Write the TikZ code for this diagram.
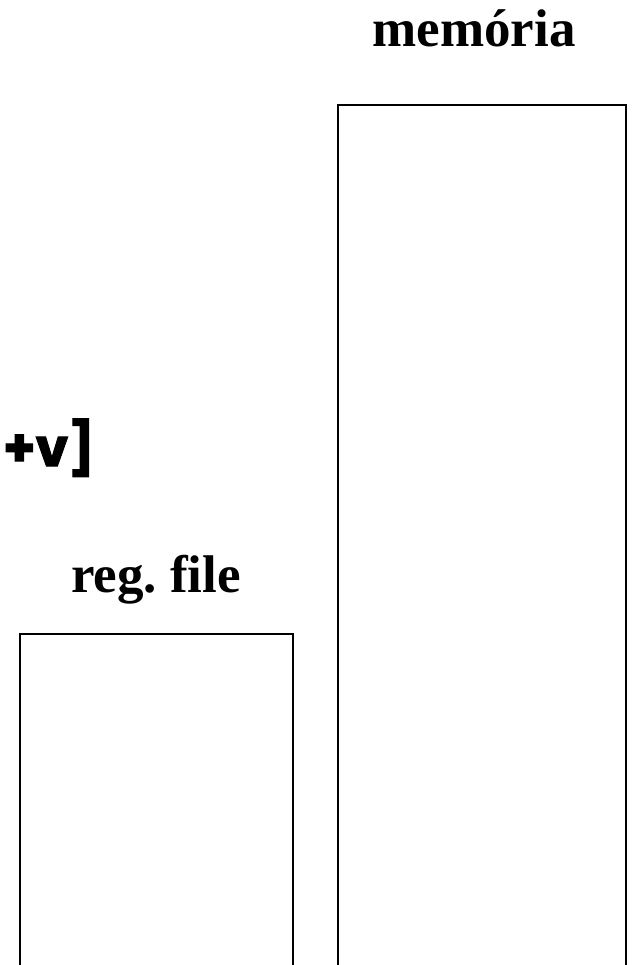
\documentclass[tikz,border=0pt]{standalone}
\usepackage{fontspec}
\setmainfont{Liberation Serif}
\newfontfamily\handfont[BoldFeatures={FakeBold=2}]{Poppins}
\frenchspacing
\begin{document}
\begin{tikzpicture}[x=1pt,y=-1pt,line width=2pt]
    \useasboundingbox (0,0) rectangle (631,965);
    % labels
    \node[anchor=base,inner sep=0pt,font=\fontsize{53}{60}\selectfont\bfseries] (memlabel) at (474,47) {memória};
    \node[anchor=base,inner sep=0pt,font=\fontsize{53}{60}\selectfont\bfseries] (reglabel) at (156,592) {reg. file};
    \node[anchor=base west,inner sep=0pt,font=\fontsize{52}{60}\selectfont\handfont\bfseries] (expr) at (2,466) {+v]};
    % boxes, open at the bottom
    \draw (338,965) -- (338,105) -- (626,105) -- (626,965);
    \draw (20,965) -- (20,634) -- (293,634) -- (293,965);
\end{tikzpicture}
\end{document}
